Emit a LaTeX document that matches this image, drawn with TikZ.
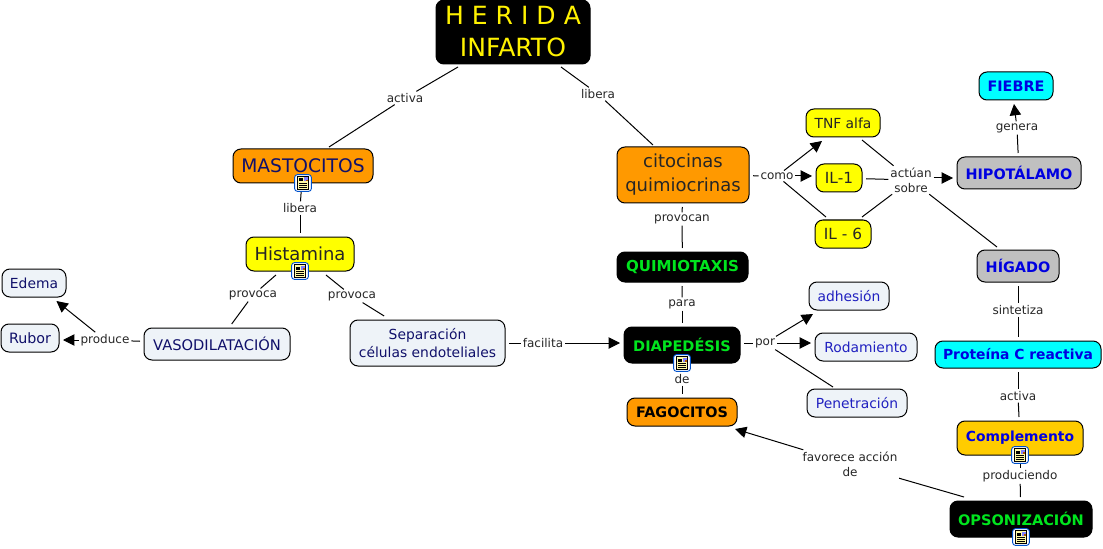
\documentclass[tikz,border=0pt]{standalone}
\usepackage{fontspec}
\setmainfont{DejaVu Sans}
\usetikzlibrary{arrows.meta,calc}
\definecolor{navy1}{HTML}{10106A}
\definecolor{pale}{HTML}{EEF3F8}
\definecolor{orng}{HTML}{FF9900}
\definecolor{yel}{HTML}{FFFF00}
\definecolor{gry}{HTML}{C0C0C0}
\definecolor{cyn}{HTML}{00FFFF}
\definecolor{gold}{HTML}{FFCC00}
\definecolor{grn}{HTML}{00E51E}
\definecolor{blu}{HTML}{0000E0}
\definecolor{blut}{HTML}{2020C0}
\newcommand{\fsz}[1]{\fontsize{#1}{13}\selectfont}
\tikzset{
 x=0.75pt,y=-0.75pt,
 con/.style={draw=black,line width=0.75pt},
 arr/.style={con,-{Triangle[length=8.5pt,width=8.5pt]}},
 box/.style={draw=black,line width=0.75pt,rounded corners=6pt,align=center,inner sep=0pt,outer sep=3pt},
 lab/.style={inner sep=1.5pt,outer sep=0pt,align=center,text=black!85,font=\fontsize{9}{11}\selectfont},
 paleb/.style={box,fill=pale,text=navy1,font=\fsz{10.4}},
 bluet/.style={box,fill=pale,text=blut,font=\fsz{10.4}},
 yelb/.style={box,fill=yel,text=black!85,font=\fsz{10.4}},
 blackb/.style={box,fill=black,text=grn,font=\bfseries\fsz{10.9}},
 bigt/.style={box,text=navy1,font=\fontsize{13.5}{18}\selectfont},
 blueb/.style={box,text=blu,font=\bfseries\fsz{10.8}},
 iconbox/.style={draw=blue!60!cyan!80!black,line width=0.7pt,fill=white,rounded corners=2pt},
}
% \bx{name}{x0}{y0}{x1}{y1}{style}{text}
\newcommand{\bx}[7]{\node[#6,minimum width={(#4-#2)*0.75pt},minimum height={(#5-#3)*0.75pt}] (#1) at ({(#2+#4)/2},{(#3+#5)/2}) {#7};}
\newcommand{\docicon}[3]{%
 \begin{scope}[shift={(#2,#3)}]
 \node[iconbox,minimum size=12.5pt,inner sep=0pt] (#1) at (0,0) {};
 \fill[yellow!35,draw=black,line width=0.5pt] (-5.5,-6.5) rectangle (5.5,6.5);
 \fill[black] (-4,-4.5) rectangle (0,-1.5);
 \fill[blue!50] (1,-5.5) rectangle (4.5,-1.5);
 \fill[orange!70!black] (2.5,-3) rectangle (4.5,-1.5);
 \draw[black,line width=0.4pt] (-4,0.3) -- (4,0.3) (-4,2.3) -- (4,2.3) (-4,4.3) -- (4,4.3);
 \end{scope}}
\begin{document}
\begin{tikzpicture}
\useasboundingbox (0,0) rectangle (1103,549);
% concept boxes
\bx{herida}{436}{0}{590}{64}{box,fill=black,text=yellow,font=\fontsize{18.8}{24}\selectfont}{H E R I D A\\INFARTO}
\bx{masto}{233}{149}{373}{183}{bigt,fill=orng,font=\fsz{14}}{MASTOCITOS}
\bx{hist}{246}{237}{354}{271}{bigt,fill=yel,text=black!85}{Histamina}
\bx{edema}{2}{269}{66}{297}{paleb}{Edema}
\bx{rubor}{1}{324}{59}{352}{paleb,font=\fsz{10.7}}{Rubor}
\bx{vaso}{144}{328}{290}{360}{paleb,font=\fsz{11}}{VASODILATACIÓN}
\bx{sepa}{350}{320}{505}{366}{paleb}{Separación\\células endoteliales}
\bx{cito}{617}{147}{749}{203}{bigt,fill=orng,text=black!85}{citocinas\\quimiocrinas}
\bx{quimio}{617}{252}{748}{282}{blackb,font=\bfseries\fsz{11.3}}{QUIMIOTAXIS}
\bx{diape}{624}{327}{740}{363}{blackb}{DIAPEDÉSIS}
\bx{fago}{627}{398}{737}{426}{box,fill=orng,text=black,font=\bfseries\fsz{10.8}}{FAGOCITOS}
\bx{adhe}{809}{282}{889}{310}{bluet}{adhesión}
\bx{roda}{815}{333}{917}{361}{bluet}{Rodamiento}
\bx{pene}{807}{389}{907}{417}{bluet}{Penetración}
\bx{tnf}{806}{109}{880}{137}{yelb}{TNF alfa}
\bx{ilu}{816}{164}{862}{192}{yelb,font=\fsz{11.5}}{IL-1}
\bx{ils}{815}{220}{871}{248}{yelb,font=\fsz{11.5}}{IL - 6}
\bx{fiebre}{979}{72}{1053}{100}{blueb,fill=cyn}{FIEBRE}
\bx{hipo}{957}{157}{1081}{189}{blueb,fill=gry}{HIPOTÁLAMO}
\bx{higado}{977}{250}{1059}{282}{blueb,fill=gry}{HÍGADO}
\bx{prote}{935}{341}{1101}{368}{blueb,fill=cyn,font=\bfseries\fsz{10.4}}{Proteína C reactiva}
\bx{compl}{957}{421}{1083}{455}{blueb,fill=gold,font=\bfseries\fsz{10.4}}{Complemento}
\bx{opso}{950}{501}{1092}{537}{blackb}{OPSONIZACIÓN}
% linking phrases
\node[lab] (lactiva) at (405,98) {activa};
\node[lab] (llibera) at (598,94) {libera};
\node[lab] (lliberb) at (300,208) {libera};
\node[lab] (lprova) at (253,295) {provoca};
\node[lab] (lprovb) at (352,296) {provoca};
\node[lab] (lprod) at (105,340) {produce};
\node[lab] (lfaci) at (543,343) {facilita};
\node[lab] (lprovc) at (682,219) {provocan};
\node[lab] (lcomo) at (777,176) {como};
\node[lab] (lactu) at (911,180) {actúan\\sobre};
\node[lab] (lgene) at (1017,128) {genera};
\node[lab] (lpara) at (682,304) {para};
\node[lab] (lpor) at (765,343) {por};
\node[lab] (lde) at (682,379) {de};
\node[lab] (lsint) at (1018,310) {sintetiza};
\node[lab] (lactb) at (1018,396) {activa};
\node[lab] (lprdc) at (1020,476) {produciendo};
\node[lab] (lfavo) at (850,464) {favorece acción\\de};
% connectors
\draw[con] ($(herida.south)+(-55,-1)$) -- (lactiva);
\draw[con] (lactiva) -- ($(masto.north)+(26,2)$);
\draw[con] ($(herida.south)+(48,-1)$) -- (llibera);
\draw[con] (llibera) -- ($(cito.north)+(-30,2)$);
\draw[con] (masto) -- (lliberb);
\draw[con] (lliberb) -- (hist);
\draw[con] (hist) -- (lprova);
\draw[con] (lprova) -- (vaso);
\draw[con] (hist) -- (lprovb);
\draw[con] (lprovb) -- (sepa);
\draw[con] (vaso) -- (lprod);
\draw[arr] (lprod) -- (edema);
\draw[arr] (lprod.west) -- (lprod.west -| rubor.east);
\draw[con] (sepa) -- (lfaci);
\draw[arr] (lfaci.east) -- (lfaci.east -| diape.west);
\draw[con] (cito) -- (lcomo);
\draw[con] (cito) -- (lprovc);
\draw[con] (lprovc) -- (quimio);
\draw[con] (quimio) -- (lpara);
\draw[con] (lpara) -- (diape);
\draw[con] (diape) -- (lde);
\draw[con] (lde) -- (fago);
\draw[con] (diape.east |- lpor.west) -- (lpor.west);
\draw[arr] (lpor) -- ($(adhe.south)+(-36,0)$);
\draw[arr] (lpor.east) -- (lpor.east -| roda.west);
\draw[con] (lpor) -- ($(pene.north)+(-24,2)$);
\draw[arr] (lcomo) -- ($(tnf.south)+(-21,0)$);
\draw[arr] (lcomo.east) -- (lcomo.east -| ilu.west);
\draw[con] (lcomo) -- ($(ils.north)+(-17,1)$);
\draw[con] ($(tnf.south)+(19,-1)$) -- (lactu);
\draw[con] (ilu) -- (lactu);
\draw[con] ($(ils.north)+(19,1)$) -- (lactu);
\draw[arr] ($(lactu.east)+(0,-2)$) -- ($(lactu.east -| hipo.west)+(0,-2)$);
\draw[con] (lactu) -- ($(higado.north)+(-21,1)$);
\draw[con] (hipo) -- (lgene);
\draw[arr] (lgene) -- ($(fiebre.south)+(-2,0)$);
\draw[con] (higado) -- (lsint);
\draw[con] (lsint) -- (prote);
\draw[con] (prote) -- (lactb);
\draw[con] (lactb) -- (compl);
\draw[con] (compl) -- (lprdc);
\draw[con] (lprdc) -- (opso);
\draw[con] ($(opso.north)+(-57,0)$) -- (lfavo);
\draw[arr] (lfavo) -- ($(fago.south east)+(-6,-1)$);
% resource icons
\docicon{ia}{303}{183}
\docicon{ib}{300}{271}
\docicon{ic}{682}{363}
\docicon{id}{1020}{455}
\docicon{ie}{1021}{537}
\end{tikzpicture}
\end{document}
